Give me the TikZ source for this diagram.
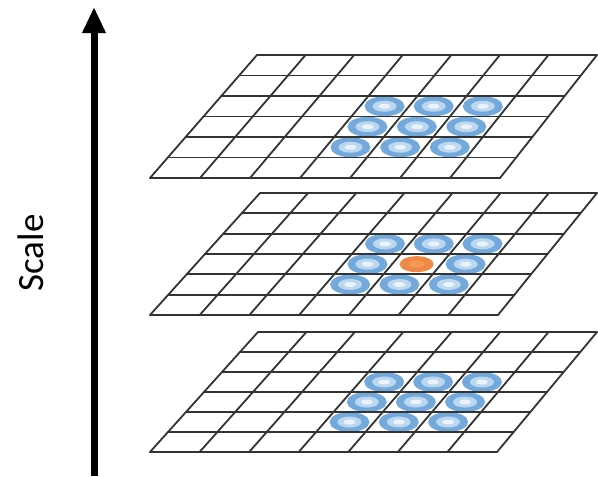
\documentclass[tikz,border=0pt]{standalone}
\usepackage{fontspec}
\setmainfont{Carlito}
\usepackage{tikz}
\usetikzlibrary{arrows.meta,calc}
\definecolor{ringblue}{HTML}{5B9BD5}
\definecolor{ringsoft}{HTML}{BCD7F0}
\definecolor{peak}{HTML}{ED7D31}
\definecolor{peaksoft}{HTML}{F39A55}
\tikzset{
  sgrid/.style={line width=1.8pt,draw=black!80,line cap=round},
  sarr/.style={-{Triangle[length=26pt,width=22pt]},line width=7pt,draw=black},
  sring/.style={fill=ringblue!85},
  shole/.style={fill=ringsoft},
  score/.style={fill=white!70!ringsoft},
  speak/.style={fill=peak!90},
  slabel/.style={rotate=90,font=\fontsize{37}{40}\selectfont}
}

\begin{document}
\begin{tikzpicture}[x=1pt,y=-1pt]
  \useasboundingbox (0,0) rectangle (598,477);
  % corners of the three scale layers
  \foreach \lay/\ytop/\xtl/\xbr/\ybot in {a/55/257/500/178, b/193/260/498/315, c/332/258/497/452} {
    \coordinate (\lay-tl) at (\xtl,\ytop);
    \coordinate (\lay-tr) at (597,\ytop);
    \coordinate (\lay-bl) at (150,\ybot);
    \coordinate (\lay-br) at (\xbr,\ybot);
  }
  % 3x3 neighbourhood markers, orange centre in the middle layer
  \foreach \lay/\mid in {a/0,b/1,c/0}
    \foreach \c in {3,4,5}
      \foreach \r in {2,3,4} {
        \coordinate (p) at ($(\lay-tl)!{(\c+0.5)/7}!(\lay-tr)$);
        \coordinate (q) at ($(\lay-bl)!{(\c+0.5)/7}!(\lay-br)$);
        \coordinate (\lay-\c\r) at ($(p)!{(\r+0.5)/6}!(q)$);
        \ifnum\numexpr\mid*100+\c*10+\r\relax=143
          \fill[speak] (\lay-\c\r) ellipse [x radius=17pt,y radius=8pt];
          \fill[peaksoft] (\lay-\c\r) ellipse [x radius=8pt,y radius=3.5pt];
        \else
          \fill[sring] (\lay-\c\r) ellipse [x radius=20pt,y radius=10pt];
          \fill[shole] (\lay-\c\r) ellipse [x radius=12pt,y radius=5.5pt];
          \fill[score] (\lay-\c\r) ellipse [x radius=6pt,y radius=2.5pt];
        \fi
      }
  % the grids
  \begin{scope}
    \clip (0,0) rectangle (598,477);
    \foreach \lay in {a,b,c} {
      \foreach \i in {0,...,7}
        \draw[sgrid] ($(\lay-tl)!{\i/7}!(\lay-tr)$) -- ($(\lay-bl)!{\i/7}!(\lay-br)$);
      \foreach \j in {0,...,6}
        \draw[sgrid] ($(\lay-tl)!{\j/6}!(\lay-bl)$) -- ($(\lay-tr)!{\j/6}!(\lay-br)$);
    }
  \end{scope}
  % scale axis
  \coordinate (sbase) at (94,476);
  \coordinate (stip) at (94,7);
  \draw[sarr] (sbase) -- (stip);
  \node[slabel] (scalelbl) at (31,253) {Scale};
\end{tikzpicture}
\end{document}
